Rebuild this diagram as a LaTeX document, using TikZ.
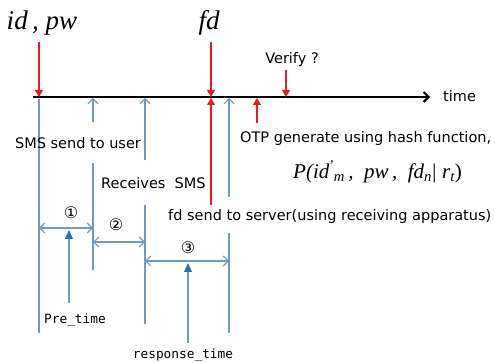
\documentclass[tikz,border=0pt]{standalone}
\usepackage{fontspec}
\setmainfont{DejaVu Sans}
\newfontfamily\tnr{Liberation Serif}
\newfontfamily\monof{DejaVu Sans Mono}
\usetikzlibrary{arrows.meta}
\definecolor{lb}{RGB}{112,153,196}
\definecolor{tb}{RGB}{45,110,185}
\definecolor{rd}{RGB}{235,25,35}
\begin{document}
\begin{tikzpicture}[x=1pt,y=-1pt,
  vline/.style={draw=lb, line width=1.1pt},
  uparr/.style={vline, -{Straight Barb[length=5pt,width=10pt]}},
  dblarr/.style={vline, {Straight Barb[length=5pt,width=10pt]}-{Straight Barb[length=5pt,width=10pt]}},
  filarr/.style={vline, -{Triangle[length=9pt,width=8pt,color=tb]}},
  redarr/.style={draw=rd, line width=1.1pt, -{Triangle[length=7pt,width=8pt]}},
  axisln/.style={draw=black, line width=2pt, -{Straight Barb[length=5pt,width=10pt]}},
  lbl/.style={inner sep=0pt, font=\fontsize{14.5}{16}\selectfont},
  big/.style={inner sep=0pt, font=\fontsize{27}{30}\tnr\itshape},
  circ/.style={inner sep=0pt, font=\fontsize{16}{16}\selectfont},
  mono/.style={inner sep=0pt, font=\fontsize{12.8}{14}\monof},
]
\useasboundingbox (0,0) rectangle (495,363);
% axis
\coordinate (a0) at (33,97);
\coordinate (a1) at (430,97);
\draw[axisln] (a0) -- (a1);
\node[lbl, anchor=west] (time) at (443,96) {time};
% top labels
\node[big] (idpw) at (42,23) {id\,, pw};
\node[big] (fd) at (209,23) {fd};
\node[lbl] (verify) at (292,60) {Verify ?};
% red arrows
\coordinate (r1s) at (39,42);  \coordinate (r1e) at (39,97);
\coordinate (r2s) at (211,42); \coordinate (r2e) at (211,97);
\coordinate (r3s) at (286,70); \coordinate (r3e) at (286,97);
\coordinate (r4s) at (211,205); \coordinate (r4e) at (211,98);
\coordinate (r5s) at (257,123); \coordinate (r5e) at (257,98);
% blue vertical lines
\coordinate (b0t) at (39,99);  \coordinate (b0b) at (39,333);
\draw[vline] (b0t) -- (b0b);
\coordinate (b1a) at (93,122); \coordinate (b1t) at (93,98);
\coordinate (b1c) at (93,163); \coordinate (b1b) at (93,270);
\draw[uparr] (b1a) -- (b1t);
\draw[vline] (b1c) -- (b1b);
\coordinate (b2a) at (145,160); \coordinate (b2t) at (145,98);
\coordinate (b2c) at (145,205); \coordinate (b2b) at (145,324);
\draw[uparr] (b2a) -- (b2t);
\draw[vline] (b2c) -- (b2b);
\coordinate (b3a) at (229,197); \coordinate (b3t) at (229,98);
\coordinate (b3c) at (229,233); \coordinate (b3b) at (229,333);
\draw[uparr] (b3a) -- (b3t);
\draw[vline] (b3c) -- (b3b);
% red arrows drawn on top
\draw[redarr] (r1s) -- (r1e);
\draw[redarr] (r2s) -- (r2e);
\draw[redarr] (r3s) -- (r3e);
\draw[redarr] (r4s) -- (r4e);
\draw[redarr] (r5s) -- (r5e);
% texts
\node[lbl] (sms) at (78,143) {SMS send to user};
\node[lbl, anchor=west] (recv) at (101,183) {Receives\ \ SMS};
\node[lbl, anchor=west] (otp) at (240,139) {OTP generate using hash function,};
\node[inner sep=0pt, anchor=west, font=\fontsize{21}{22}\tnr\itshape] (formula) at (293,172)
  {P(id\textsuperscript{\upshape\textquoteright}\kern-1pt\textsubscript{m}\,,\ \ pw\,,\ \ fd\textsubscript{n}\kern-1pt\textbar\ r\textsubscript{t}\upshape)};
\node[lbl, anchor=west] (fdsend) at (168,217) {fd send to server(using receiving apparatus)};
% intervals
\coordinate (d1a) at (39,228); \coordinate (d1b) at (93,228);
\coordinate (d2a) at (93,242); \coordinate (d2b) at (145,242);
\coordinate (d3a) at (145,261); \coordinate (d3b) at (229,261);
\draw[dblarr] (d1a) -- (d1b);
\draw[dblarr] (d2a) -- (d2b);
\draw[dblarr] (d3a) -- (d3b);
\node[circ] (c1) at (71,213) {①};
\node[circ] (c2) at (116,225) {②};
\node[circ] (c3) at (188,248) {③};
% pointers
\node[mono] (pre) at (75,320) {Pre\_time};
\node[mono] (resp) at (183,355) {response\_time};
\coordinate (p1s) at (69,303); \coordinate (p1e) at (69,230);
\coordinate (p2s) at (188,343); \coordinate (p2e) at (188,263);
\draw[filarr] (p1s) -- (p1e);
\draw[filarr] (p2s) -- (p2e);
\end{tikzpicture}
\end{document}
